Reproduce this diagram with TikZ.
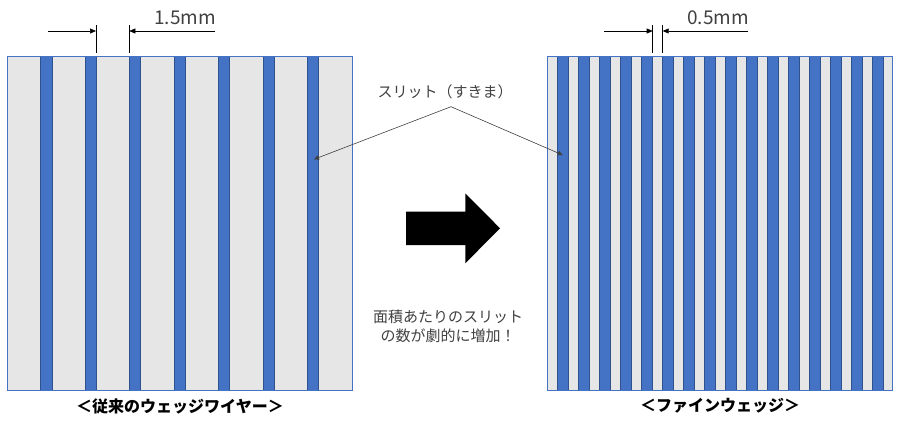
\documentclass[tikz,border=0pt]{standalone}
\usepackage{fontspec}
\setmainfont{Noto Sans CJK JP}
\usetikzlibrary{arrows.meta}
\definecolor{slitgray}{HTML}{E7E6E6}
\definecolor{wireblue}{HTML}{4472C4}
\definecolor{wireedge}{HTML}{2F528F}
\definecolor{txtgray}{HTML}{404040}
\begin{document}
\begin{tikzpicture}[x=1pt,y=-1pt,
  panelfill/.style={fill=slitgray},
  panel/.style={draw=wireblue,line width=1pt},
  wire/.style={fill=wireblue,draw=wireedge,line width=0.5pt},
  dimline/.style={draw=black,line width=0.6pt},
  dimarrow/.style={dimline,-{Triangle[length=6pt,width=5pt]}},
  callarrow/.style={draw=txtgray,line width=0.6pt,-{Triangle[length=5pt,width=4.5pt]}},
  lbl/.style={inner sep=0pt,font=\fontsize{15pt}{19.5pt}\selectfont,text=txtgray,align=center},
  dimlbl/.style={inner sep=0pt,font=\fontsize{19pt}{22pt}\selectfont,text=txtgray},
  title/.style={inner sep=0pt,font=\fontsize{16pt}{19pt}\selectfont\bfseries,text=black}
]
\useasboundingbox (0,0) rectangle (900,421);
% left panel
\fill[panelfill] (7.3,56.7) rectangle (352.7,390);
\foreach \i in {0,...,6}{
  \path[wire] ({40.7+44.43*\i},56.7) rectangle ({51.8+44.43*\i},390);
}
\draw[panel] (7.3,56.7) rectangle (352.7,390);
% right panel
\fill[panelfill] (547.3,56.7) rectangle (892.7,390);
\foreach \i in {0,...,15}{
  \path[wire] ({557.3+20.97*\i},56.7) rectangle ({568.4+20.97*\i},390);
}
\draw[panel] (547.3,56.7) rectangle (892.7,390);
% left dimension
\coordinate (la) at (96,25);   \coordinate (lab) at (96,53.3);
\coordinate (lb) at (129.3,25); \coordinate (lbb) at (129.3,53.3);
\coordinate (las) at (48.3,31); \coordinate (lat) at (96,31);
\coordinate (lbs) at (215,31);  \coordinate (lbt) at (129.3,31);
\draw[dimline] (la) -- (lab);
\draw[dimline] (lb) -- (lbb);
\draw[dimarrow] (las) -- (lat);
\draw[dimarrow] (lbs) -- (lbt);
\node[dimlbl] (d1) at (185,17.5) {1.5mm};
% right dimension
\coordinate (ra) at (652.7,25);   \coordinate (rab) at (652.7,53.3);
\coordinate (rb) at (662.7,25);   \coordinate (rbb) at (662.7,53.3);
\coordinate (ras) at (604.3,31);  \coordinate (rat) at (652.7,31);
\coordinate (rbs) at (748.3,31);  \coordinate (rbt) at (662.7,31);
\draw[dimline] (ra) -- (rab);
\draw[dimline] (rb) -- (rbb);
\draw[dimarrow] (ras) -- (rat);
\draw[dimarrow] (rbs) -- (rbt);
\node[dimlbl] (d2) at (718.2,17.5) {0.5mm};
% callout
\node[lbl] (call) at (445,91.7) {スリット（すきま）};
\coordinate (cp) at (451,106.7);
\coordinate (tipL) at (314,159.3);
\coordinate (tipR) at (562.7,155);
\draw[callarrow] (cp) -- (tipL);
\draw[callarrow] (cp) -- (tipR);
% big arrow
\fill[black] (406,211.7) -- (465.3,211.7) -- (465.3,193.3) -- (500,228.3)
  -- (465.3,263.3) -- (465.3,245) -- (406,245) -- cycle;
% note
\node[lbl] (note) at (448,326.3) {面積あたりのスリット\\の数が劇的に増加！};
% titles
\node[title] (t1) at (180,406) {＜従来のウェッジワイヤー＞};
\node[title] (t2) at (720,406) {＜ファインウェッジ＞};
\end{tikzpicture}
\end{document}
